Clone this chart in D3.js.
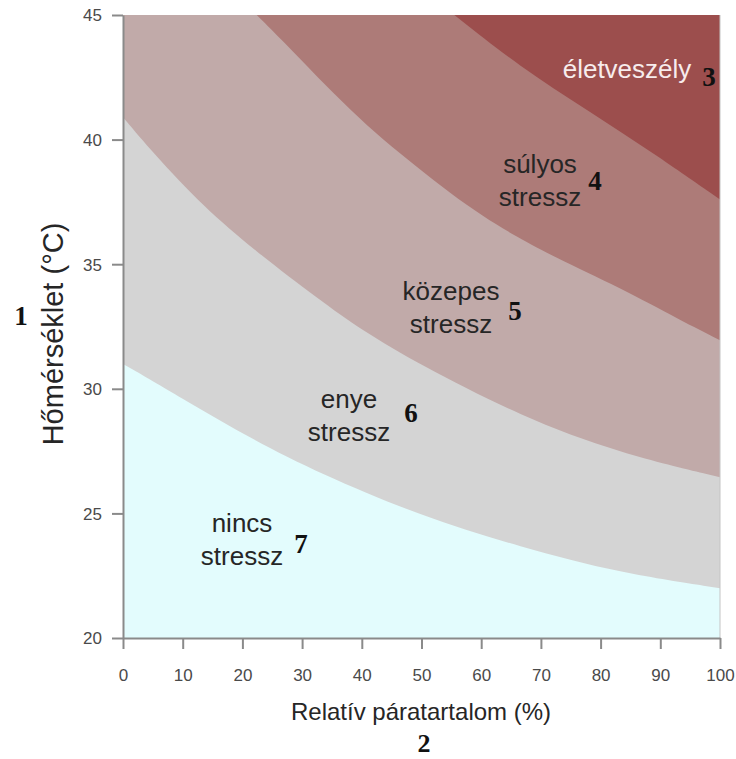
<!DOCTYPE html>
<html>
<head>
<meta charset="utf-8">
<script src="https://cdn.jsdelivr.net/npm/d3@7"></script>
<style>
  html, body { margin: 0; padding: 0; background: #ffffff; }
  svg { display: block; }
</style>
</head>
<body>
<svg id="chart" width="736" height="759"></svg>
<script>
// ---- data ----
const xTicks = [0, 10, 20, 30, 40, 50, 60, 70, 80, 90, 100];
const yTicks = [20, 25, 30, 35, 40, 45];

// boundary: nincs stressz / enye stressz
const rhB1 = [0, 10.7, 21.8, 33, 49.8, 66.6, 83.3, 100];
const tB1  = [31.0, 29.5, 27.95, 26.6, 24.9, 23.65, 22.6, 22.0];
// boundary: enye stressz / közepes stressz
const rhB2 = [0, 5.1, 13.5, 21.8, 33, 39.7, 49.8, 66.6, 83.3, 100];
const tB2  = [40.9, 39.45, 37.3, 35.6, 33.55, 32.4, 30.95, 28.9, 27.4, 26.45];
// boundary: közepes stressz / súlyos stressz
const rhB3 = [22.4, 26.9, 32.5, 38.1, 43.6, 49.2, 54.8, 60.4, 64.9, 72.1, 83.3, 93.4, 100];
const tB3  = [45, 43.93, 42.52, 41.19, 39.98, 38.91, 37.85, 36.91, 36.24, 35.3, 34.05, 32.75, 31.95];
// boundary: súlyos stressz / életveszély
const rhB4 = [55.5, 66.6, 77.7, 88.9, 100];
const tB4  = [45, 42.9, 41.2, 39.45, 37.6];

const zoneNames  = ["nincs stressz", "enye stressz", "közepes stressz", "súlyos stressz", "életveszély"];
const zoneColors = ["#e3fcfd", "#d4d4d4", "#c1aaa9", "#ad7b78", "#9c4e4d"];

// ---- layout ----
const svg = d3.select("#chart");
const x = d3.scaleLinear().domain([0, 100]).range([123, 720]);
const y = d3.scaleLinear().domain([20, 45]).range([638, 15]);

// background zone (nincs stressz)
svg.append("rect")
  .attr("x", x(0)).attr("y", y(45))
  .attr("width", x(100) - x(0)).attr("height", y(20) - y(45))
  .attr("fill", zoneColors[0]);

const boundaries = [
  {rh: rhB1, t: tB1},
  {rh: rhB2, t: tB2},
  {rh: rhB3, t: tB3},
  {rh: rhB4, t: tB4}
];

const area = d3.area()
  .x(d => x(d[0]))
  .y0(y(45))
  .y1(d => y(d[1]))
  .curve(d3.curveBasis);

boundaries.forEach((b, i) => {
  const pts = b.rh.map((r, j) => [r, b.t[j]]);
  svg.append("path")
    .attr("d", area(pts))
    .attr("fill", zoneColors[i + 1]);
});

// right border line
svg.append("line")
  .attr("x1", x(100)).attr("x2", x(100))
  .attr("y1", y(45)).attr("y2", y(20))
  .attr("stroke", "#c4c4c4").attr("stroke-width", 1);

// axes
const axisColor = "#8a8a8a";
const gx = svg.append("g")
  .attr("transform", `translate(0,${y(20)})`)
  .call(d3.axisBottom(x).tickValues(xTicks).tickSize(11).tickPadding(32).tickSizeOuter(0));
const gy = svg.append("g")
  .attr("transform", `translate(${x(0)},0)`)
  .call(d3.axisLeft(y).tickValues(yTicks).tickSize(11).tickPadding(10).tickSizeOuter(0));

[gx, gy].forEach(g => {
  g.select(".domain").attr("stroke", axisColor).attr("stroke-width", 2);
  g.selectAll(".tick line").attr("stroke", axisColor).attr("stroke-width", 2);
  g.selectAll(".tick text")
    .attr("fill", "#4a4a4a")
    .style("font-family", "'Liberation Sans', Arial, sans-serif")
    .style("font-size", "17px");
});
gx.selectAll(".tick text").attr("dy", "0");
gy.selectAll(".tick text").attr("dy", "0.35em");

// axis titles
svg.append("text")
  .attr("x", 421).attr("y", 720)
  .attr("text-anchor", "middle")
  .attr("fill", "#262626")
  .style("font-family", "'Liberation Sans', Arial, sans-serif")
  .style("font-size", "24px")
  .text("Relatív páratartalom (%)");

svg.append("text")
  .attr("transform", "translate(63,334) rotate(-90)")
  .attr("text-anchor", "middle")
  .attr("fill", "#262626")
  .style("font-family", "'Liberation Sans', Arial, sans-serif")
  .style("font-size", "29px")
  .text("Hőmérséklet (°C)");

// zone labels
const labelFont = "'Liberation Sans', Arial, sans-serif";
const zoneLabels = [
  {lines: ["nincs", "stressz"], cx: 242, base: 532, color: "#262626"},
  {lines: ["enye", "stressz"], cx: 349, base: 408, color: "#262626"},
  {lines: ["közepes", "stressz"], cx: 451, base: 300, color: "#262626"},
  {lines: ["súlyos", "stressz"], cx: 540, base: 173, color: "#262626"},
  {lines: ["életveszély"], cx: 627, base: 78, color: "#f7ecec"}
];
zoneLabels.forEach(l => {
  const t = svg.append("text")
    .attr("text-anchor", "middle")
    .attr("fill", l.color)
    .style("font-family", labelFont)
    .style("font-size", "26px");
  l.lines.forEach((s, i) => {
    t.append("tspan").attr("x", l.cx).attr("y", l.base + i * 32.5).text(s);
  });
});

// reference numbers
const numLabels = [
  {n: "1", px: 21, py: 325},
  {n: "2", px: 424, py: 752},
  {n: "3", px: 709, py: 86},
  {n: "4", px: 595, py: 190},
  {n: "5", px: 515, py: 320},
  {n: "6", px: 411, py: 422},
  {n: "7", px: 301, py: 553}
];
numLabels.forEach(d => {
  svg.append("text")
    .attr("x", d.px).attr("y", d.py)
    .attr("text-anchor", "middle")
    .attr("fill", "#111111")
    .style("font-family", "'Liberation Serif', 'Times New Roman', serif")
    .style("font-weight", "bold")
    .style("font-size", d.n === "2" ? "26px" : "27px")
    .text(d.n);
});
</script>
</body>
</html>
